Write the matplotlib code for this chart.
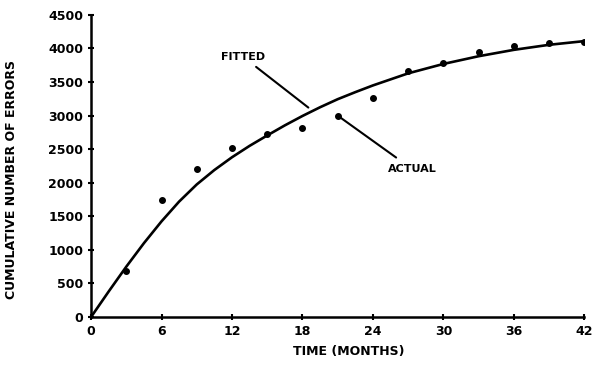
import matplotlib
matplotlib.use("Agg")
import matplotlib.pyplot as plt

# Actual observed cumulative errors
actual_months = [3, 6, 9, 12, 15, 18, 21, 24, 27, 30, 33, 36, 39, 42]
actual_errors = [690, 1750, 2200, 2520, 2720, 2810, 3000, 3260, 3660, 3780, 3950, 4040, 4080, 4100]

# Fitted curve
fitted_months = [0, 1.5, 3, 4.5, 6, 7.5, 9, 10.5, 12, 13.5, 15, 16.5, 18, 19.5, 21, 22.5, 24,
                 27, 30, 33, 36, 39, 42]
fitted_errors = [0, 380, 750, 1100, 1425, 1720, 1975, 2190, 2380, 2550, 2705, 2855, 2995, 3125, 3245,
                 3350, 3450, 3630, 3770, 3885, 3980, 4055, 4110]

x_ticks = [0, 6, 12, 18, 24, 30, 36, 42]
y_ticks = [0, 500, 1000, 1500, 2000, 2500, 3000, 3500, 4000, 4500]

plt.rcParams['font.family'] = ['DejaVu Sans']

fig = plt.figure(figsize=(5.93, 3.73), dpi=100)
ax = fig.add_axes([0.1535, 0.150, 0.832, 0.810])

ax.plot(fitted_months, fitted_errors, color='black', lw=1.9, solid_capstyle='round',
        solid_joinstyle='round', zorder=2)
ax.plot(actual_months, actual_errors, 'o', color='black', ms=4, zorder=3)

ax.set_xlim(0, 42)
ax.set_ylim(0, 4500)
ax.set_xticks(x_ticks)
ax.set_yticks(y_ticks)
ax.tick_params(direction='inout', length=5, width=1.5, labelsize=9, pad=3)
for lab in ax.get_xticklabels() + ax.get_yticklabels():
    lab.set_fontweight('bold')

for s in ['top', 'right']:
    ax.spines[s].set_visible(False)
for s in ['left', 'bottom']:
    ax.spines[s].set_linewidth(1.8)

ax.set_xlabel('TIME (MONTHS)', fontsize=9, fontweight='bold')
ax.set_ylabel('CUMULATIVE NUMBER OF ERRORS', fontsize=9, fontweight='bold')
ax.xaxis.set_label_coords(0.522, -0.093)
ax.yaxis.set_label_coords(-0.148, 0.455)

# Annotations
ax.annotate('FITTED', xy=(18.5, 3120), xytext=(14.8, 3880),
            fontsize=8, fontweight='bold', ha='right', va='center',
            arrowprops=dict(arrowstyle='-', color='black', lw=1.5, shrinkA=3, shrinkB=0))
ax.annotate('ACTUAL', xy=(actual_months[6], actual_errors[6]), xytext=(25.3, 2200),
            fontsize=8, fontweight='bold', ha='left', va='center',
            arrowprops=dict(arrowstyle='-', color='black', lw=1.5, shrinkA=5, shrinkB=0))

fig.savefig('out.png', dpi=100)
